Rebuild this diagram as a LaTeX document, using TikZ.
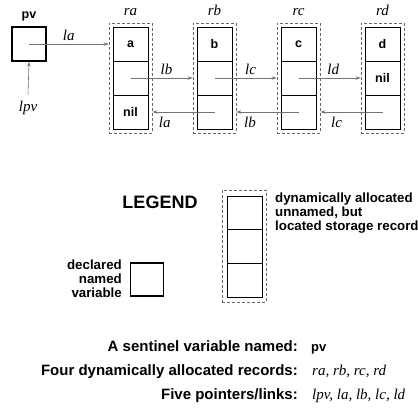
\documentclass[tikz,border=0pt]{standalone}
\usepackage{fontspec}
\setmainfont{Liberation Serif}
\setsansfont{Liberation Sans}
\usetikzlibrary{arrows.meta,positioning}
\colorlet{linkGray}{black!55}
\colorlet{frameGray}{black!60}

\begin{document}
\begin{tikzpicture}[x=1pt, y=-1pt, every node/.style={inner sep=0pt},
    var/.style={draw, line width=1.5pt, minimum size=34pt},
    cell/.style={draw, line width=0.9pt, minimum width=35pt, minimum height=34pt, font=\sffamily\bfseries\fontsize{12.5}{14}\selectfont},
    recframe/.style={draw=frameGray, dash pattern=on 3pt off 2pt, line width=0.7pt, minimum width=43pt, minimum height=110pt},
    link/.style={linkGray, line width=0.6pt, -{Stealth[length=5pt,width=3.5pt]}},
    ident/.style={text=black, font=\itshape\fontsize{15}{17}\selectfont},
    boldtext/.style={font=\sffamily\bfseries\fontsize{15}{17}\selectfont},
    note/.style={font=\sffamily\bfseries\fontsize{13.3}{14}\selectfont}]
    \useasboundingbox (0,0) rectangle (418,410);
    % sentinel variable
    \node[var] (pv) at (29,44) {};
    \node[font=\sffamily\bfseries\fontsize{12.5}{14}\selectfont, anchor=base] (pvlbl) at (29,18) {pv};
    \node[ident, anchor=base] (lpv) at (28,111) {lpv};
    \draw[link] ([yshift=6pt]lpv.north) -- (pv.south);
    % records
    \foreach \r/\x/\v/\m/\b in {ra/130.5/a//nil, rb/214.5/b//, rc/298.5/c//, rd/382.5/d/nil/} {
        \node[recframe] (\r) at (\x,78) {};
        \node[cell] (\r-1) at (\x,44) {\v};
        \node[cell] (\r-2) at (\x,78) {\m};
        \node[cell] (\r-3) at (\x,112) {\b};
        \node[ident, anchor=base] (\r-lbl) at (\x,15.5) {\r};
    }
    \draw[link] (pv.center) -- node[ident, above=3pt] {la} (ra.west |- pv.center);
    \draw[link] (ra-2.center) -- node[ident, above=3pt, pos=0.58] {lb} (rb.west);
    \draw[link] (rb-2.center) -- node[ident, above=3pt, pos=0.58] {lc} (rc.west);
    \draw[link] (rc-2.center) -- node[ident, above=3pt, pos=0.56] {ld} (rd.west);
    \draw[link] (rb-3.center) -- node[ident, below=5pt, pos=0.8] {la} (ra.east |- rb-3.center);
    \draw[link] (rc-3.center) -- node[ident, below=5pt, pos=0.78] {lb} (rb.east |- rc-3.center);
    \draw[link] (rd-3.center) -- node[ident, below=5pt, pos=0.74] {lc} (rc.east |- rd-3.center);
    % legend
    \node[font=\sffamily\bfseries\fontsize{18}{20}\selectfont] (legend) at (160,202) {LEGEND};
    \node[recframe, minimum width=44pt, minimum height=112pt] (lrec) at (244,246) {};
    \foreach \i/\y in {1/212.8, 2/246.5, 3/280.2}
        \node[cell, minimum height=33.7pt] (lrec-\i) at (244.5,\y) {};
    \node[note, anchor=north west, align=left] (dynnote) at (275,193) {dynamically allocated\\unnamed, but\\located storage record};
    \node[var, line width=1.3pt, minimum size=33pt] (lvar) at (147,279.5) {};
    \node[note, anchor=north east, align=right] (varnote) at (122,260) {declared\\named\\variable};
    % summary
    \node[boldtext, anchor=base east] (sum1) at (298,351) {A sentinel variable named:};
    \node[boldtext, anchor=base east] (sum2) at (298,375) {Four dynamically allocated records:};
    \node[boldtext, anchor=base east] (sum3) at (298,399) {Five pointers/links:};
    \node[font=\sffamily\bfseries\fontsize{13}{15}\selectfont, anchor=base west] (val1) at (311,351) {pv};
    \node[ident, anchor=base west] (val2) at (312,375) {ra, rb, rc, rd};
    \node[ident, anchor=base west] (val3) at (312,399) {lpv, la, lb, lc, ld};
\end{tikzpicture}
\end{document}
